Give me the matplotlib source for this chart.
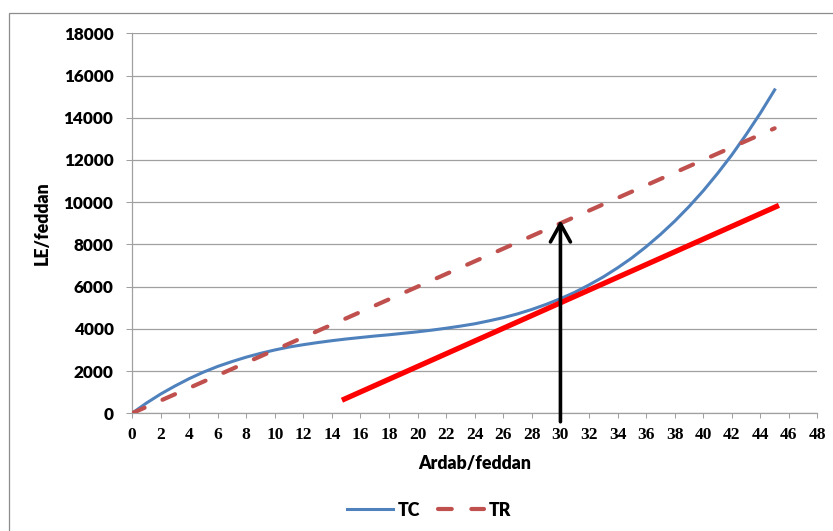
import matplotlib.pyplot as plt
from matplotlib.patches import Rectangle
from matplotlib.lines import Line2D

# --- data ---
x_tc = list(range(0, 46))
tc = [0, 480, 910, 1290, 1640, 1950, 2220, 2450, 2660, 2840,
      3000, 3140, 3250, 3350, 3440, 3520, 3590, 3660, 3720, 3790,
      3860, 3940, 4030, 4130, 4240, 4380, 4530, 4710, 4920, 5160,
      5430, 5730, 6080, 6460, 6890, 7360, 7890, 8470, 9100, 9790,
      10540, 11360, 12240, 13200, 14220, 15320]
x_tr = [0, 45]
tr = [0, 13500]
x_red = [14.7, 45.3]
red = [620, 9850]
arrow_x = 30
arrow_from, arrow_to = -400, 9150
x_ticks = list(range(0, 49, 2))
y_ticks = list(range(0, 18001, 2000))

grey = '#A0A0A0'
sans = 'Lato'
wt = 'heavy'

fig = plt.figure(figsize=(8.33, 5.31), dpi=100)
ax = fig.add_axes([132 / 833, 1 - 413.3 / 531, 685.5 / 833, 380 / 531])

# outer chart frame (Excel style)
fig.patches.append(Rectangle((9 / 833, -0.1), 1.2, 1.1 - 13.5 / 531,
                             transform=fig.transFigure, fill=False,
                             edgecolor='#8C8C8C', lw=0.9))

ax.plot(x_tc, tc, color='#4F81BD', lw=2.2, label='TC', zorder=3)
ax.plot(x_tr, tr, color='#C0504D', lw=3, dashes=(3.3, 4.7),
        dash_capstyle='round', label='TR', zorder=3)
ax.plot(x_red, red, color='#FF0000', lw=3.8, solid_capstyle='butt', zorder=4)

ax.annotate('', xy=(arrow_x, arrow_to), xytext=(arrow_x, arrow_from),
            arrowprops=dict(arrowstyle='->,head_length=1.3,head_width=0.72',
                            lw=2.6, color='black', shrinkA=0, shrinkB=0,
                            mutation_scale=10),
            annotation_clip=False, zorder=5)

ax.set_xlim(0, 48)
ax.set_ylim(0, 18000)
ax.set_xticks(x_ticks)
ax.set_yticks(y_ticks)
ax.set_xticklabels([str(v) for v in x_ticks], family='Liberation Serif',
                   fontweight='bold', fontsize=12.5)
ax.set_yticklabels([str(v) for v in y_ticks], family=sans,
                   fontweight=wt, fontsize=12.3)
ax.tick_params(axis='x', direction='out', length=3.6, width=0.75,
               color=grey, pad=6.5)
ax.tick_params(axis='y', direction='out', length=4.3, width=0.75,
               color=grey, pad=9)

ax.grid(axis='y', color=grey, lw=0.9)
ax.set_axisbelow(True)
for s in ['top', 'right']:
    ax.spines[s].set_visible(False)
for s in ['left', 'bottom']:
    ax.spines[s].set_color(grey)
    ax.spines[s].set_linewidth(0.9)

ax.set_xlabel('Ardab/feddan', family=sans, fontweight=wt, fontsize=12.8)
ax.set_ylabel('LE/feddan', family=sans, fontweight=wt, fontsize=12.8)
ax.xaxis.set_label_coords(0.5, -0.11)
ax.yaxis.set_label_coords(-0.118, 0.5)

handles = [Line2D([], [], color='#4F81BD', lw=2.2),
           Line2D([], [], color='#C0504D', lw=3, dashes=(3.3, 4.7),
                  dash_capstyle='round')]
leg = fig.legend(handles, ['TC', 'TR'], loc='center', ncol=2,
                 bbox_to_anchor=(429 / 833, 1 - 510 / 531), frameon=False,
                 handlelength=2.6, handletextpad=0.25, columnspacing=1.0,
                 prop={'family': sans, 'weight': wt, 'size': 12.8})

fig.savefig('out.png', dpi=100)
